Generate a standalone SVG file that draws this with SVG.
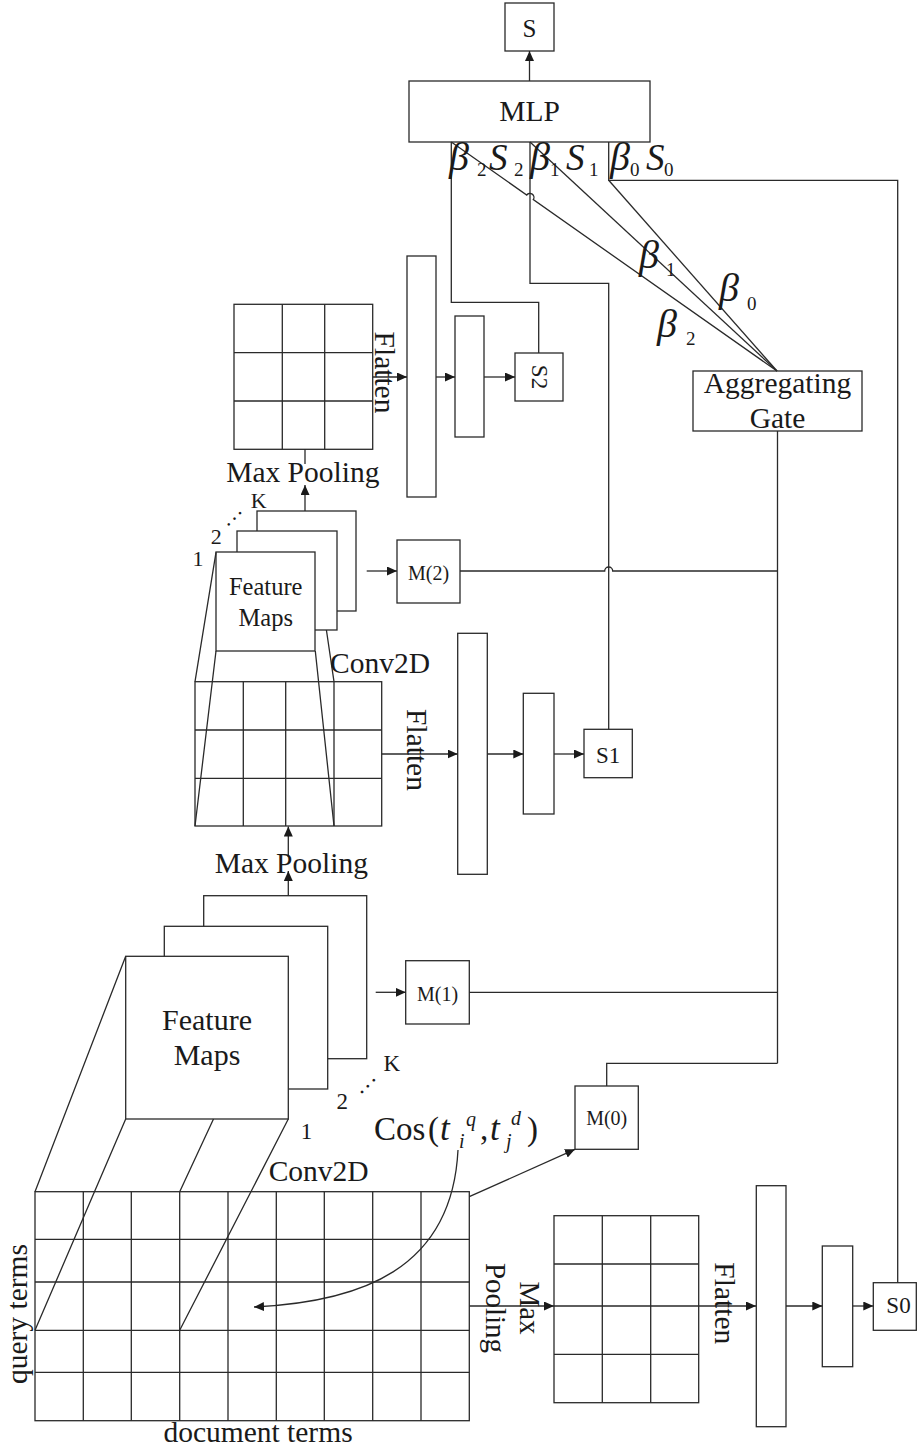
<svg xmlns="http://www.w3.org/2000/svg" width="917" height="1452" viewBox="0 0 917 1452">
<style>
.ln{stroke:#2a2a2a;stroke-width:1.3;fill:none}
.bx{stroke:#2a2a2a;stroke-width:1.3;fill:#fff}
.t{font-family:"Liberation Serif","Times New Roman",serif;fill:#1a1a1a}
.i{font-style:italic}
.c{text-anchor:middle}
.f30{font-size:29.5px}
.b{font-size:40px;font-style:italic}
.s{font-size:37px;font-style:italic}
.d{font-size:19px}
</style>
<defs>
<marker id="ah" markerUnits="userSpaceOnUse" markerWidth="11" markerHeight="9" refX="10" refY="4.5" orient="auto">
<path d="M0,0 L10,4.5 L0,9 z" fill="#1a1a1a"/>
</marker>
</defs>
<rect width="917" height="1452" fill="#fff"/>

<!-- grids -->
<g id="grid-top">
<rect class="ln" x="234" y="304.3" width="138.7" height="145"/>
<path class="ln" d="M282.3 304.3V449.3M324.7 304.3V449.3M234 352.7H372.7M234 401H372.7"/>
</g>
<g id="grid-mid">
<rect class="ln" x="195" y="681.7" width="186.7" height="144.3"/>
<path class="ln" d="M243.3 681.7V826M285.7 681.7V826M334 681.7V826M195 730H381.7M195 778.3H381.7"/>
</g>
<g id="grid-sim">
<rect class="ln" x="35" y="1191.7" width="434.3" height="229"/>
<path class="ln" d="M83.3 1191.7V1420.7M131.3 1191.7V1420.7M179.7 1191.7V1420.7M228 1191.7V1420.7M276.3 1191.7V1420.7M324.3 1191.7V1420.7M372.7 1191.7V1420.7M421 1191.7V1420.7M35 1239.3H469.3M35 1282H469.3M35 1330.3H469.3M35 1372.3H469.3"/>
</g>
<g id="grid-pool0">
<rect class="ln" x="554" y="1215.7" width="144.7" height="187"/>
<path class="ln" d="M602.3 1215.7V1402.7M650.7 1215.7V1402.7M554 1264H698.7M554 1306H698.7M554 1354.3H698.7"/>
</g>

<!-- nodes -->
<g id="node-S"><rect class="bx" x="505" y="3" width="49" height="48"/><text class="t c" x="529.5" y="37.3" font-size="25">S</text></g>
<g id="node-MLP"><rect class="bx" x="409" y="81" width="241" height="61"/><text class="t c f30" x="529.5" y="120.7">MLP</text></g>
<g id="node-gate"><rect class="bx" x="693" y="371" width="169" height="60"/><text class="t c f30" x="777.5" y="393.3">Aggregating</text><text class="t c f30" x="777.5" y="428.3">Gate</text></g>

<g id="node-fc2a"><rect class="bx" x="407" y="256" width="29" height="241"/></g>
<g id="node-fc2b"><rect class="bx" x="455" y="316" width="29" height="121"/></g>
<g id="node-S2"><rect class="bx" x="515" y="353" width="48" height="48"/><text class="t c" font-size="23" transform="translate(531.5,377) rotate(90)">S2</text></g>

<g id="node-fm2">
<rect class="bx" x="257" y="511" width="99" height="100"/>
<rect class="bx" x="237" y="531" width="100" height="99"/>
<rect class="bx" x="216" y="552" width="99" height="99"/>
<text class="t c" font-size="24.5" x="265.7" y="595">Feature</text>
<text class="t c" font-size="24.5" x="265.7" y="625.7">Maps</text>
</g>
<g id="node-M2"><rect class="bx" x="397" y="540" width="63" height="63"/><text class="t c" font-size="20" x="428.5" y="580">M(2)</text></g>

<g id="node-fc1a"><rect class="bx" x="457.7" y="633.3" width="29.6" height="241"/></g>
<g id="node-fc1b"><rect class="bx" x="523.3" y="693.3" width="30.7" height="120.7"/></g>
<g id="node-S1"><rect class="bx" x="584" y="729.3" width="48.3" height="48.4"/><text class="t c" font-size="23" x="608.2" y="762.7">S1</text></g>

<g id="node-fm1">
<rect class="bx" x="203.7" y="895.7" width="163" height="163"/>
<rect class="bx" x="164.3" y="926.3" width="163.4" height="162.7"/>
<rect class="bx" x="125.7" y="956.3" width="162.6" height="162.7"/>
<text class="t c" font-size="30" x="207" y="1030">Feature</text>
<text class="t c" font-size="30" x="207" y="1065">Maps</text>
</g>
<g id="node-M1"><rect class="bx" x="405.7" y="960.7" width="63.6" height="63.3"/><text class="t c" font-size="20" x="437.5" y="1001">M(1)</text></g>
<g id="node-M0"><rect class="bx" x="575" y="1086" width="63.3" height="63.3"/><text class="t c" font-size="20" x="606.7" y="1125">M(0)</text></g>

<g id="node-fc0a"><rect class="bx" x="756.3" y="1185.7" width="29.7" height="241"/></g>
<g id="node-fc0b"><rect class="bx" x="822.3" y="1246" width="30.4" height="120.7"/></g>
<g id="node-S0"><rect class="bx" x="873.3" y="1282.7" width="43" height="47.6"/><text class="t c" font-size="23" x="898.5" y="1313.3">S0</text></g>

<!-- connectors -->
<g id="connectors">
<path class="ln" d="M529.5 81V51" marker-end="url(#ah)"/>
<path class="ln" d="M451.3 142L526.73 195A4 4 0 0 1 533.27 199.6L777 371"/>
<path class="ln" d="M530 142L777 371"/>
<path class="ln" d="M608.7 180.3L777 371"/>
<path class="ln" d="M451.3 142V302.3H538.7V353"/>
<path class="ln" d="M530 142V283.3H608.7V729.3"/>
<path class="ln" d="M608.7 142V180.3H897.7V1282.7"/>
<path class="ln" d="M777.5 431V1063.3"/>
<path class="ln" d="M460 571H604.7A4 4 0 0 1 612.7 571H777.5"/>
<path class="ln" d="M469.3 992.3H777.5"/>
<path class="ln" d="M606.7 1086V1063.3H777.5"/>
<path class="ln" d="M366.7 571H397" marker-end="url(#ah)"/>
<path class="ln" d="M375.7 992.3H405.7" marker-end="url(#ah)"/>
<path class="ln" d="M372.7 377H407" marker-end="url(#ah)"/>
<path class="ln" d="M436 377H455" marker-end="url(#ah)"/>
<path class="ln" d="M484 377H515" marker-end="url(#ah)"/>
<path class="ln" d="M305 511V485" marker-end="url(#ah)"/>
<path class="ln" d="M305 449.3V464"/>
<path class="ln" d="M381.7 754H457.7" marker-end="url(#ah)"/>
<path class="ln" d="M487.3 754H523.3" marker-end="url(#ah)"/>
<path class="ln" d="M554 754H584" marker-end="url(#ah)"/>
<path class="ln" d="M288.3 895.7V871" marker-end="url(#ah)"/>
<path class="ln" d="M288.3 857V826.5" marker-end="url(#ah)"/>
<path class="ln" d="M469.3 1306H554" marker-end="url(#ah)"/>
<path class="ln" d="M698.7 1306H756" marker-end="url(#ah)"/>
<path class="ln" d="M786 1306H822.3" marker-end="url(#ah)"/>
<path class="ln" d="M852.7 1306H873.3" marker-end="url(#ah)"/>
<path class="ln" d="M469.3 1196.7L575 1149.3" marker-end="url(#ah)"/>
<path class="ln" d="M458 1150C452 1270 360 1302 254 1307" marker-end="url(#ah)"/>
<!-- conv projections -->
<path class="ln" d="M195 681.7L216 552.3M195 826L216 651M334 826L315.3 651M334 681.7L326.4 630"/>
<path class="ln" d="M35 1191.7L125.7 956.3M35 1330.3L125.7 1119M179.7 1330.3L288.3 1119M179.7 1191.7L213.5 1119"/>
</g>

<!-- labels -->
<g id="labels">
<text class="t c f30" transform="translate(375,372.5) rotate(90)">Flatten</text>
<text class="t c f30" x="302.8" y="481.5">Max Pooling</text>
<text class="t c" font-size="22" x="198" y="566">1</text>
<text class="t c" font-size="22" x="216.2" y="544.3">2</text>
<text class="t c" font-size="22" x="258.7" y="508.3">K</text>
<text class="t c" font-size="22" letter-spacing="2.6" transform="translate(236,518.5) rotate(-45)">...</text>
<text class="t f30" x="330" y="673.3">Conv2D</text>
<text class="t c f30" transform="translate(406.5,750) rotate(90)">Flatten</text>
<text class="t c f30" x="291.3" y="873.3">Max Pooling</text>
<text class="t c" font-size="23" x="391.7" y="1070.7">K</text>
<text class="t c" font-size="23" x="342.3" y="1109.3">2</text>
<text class="t c" font-size="23" x="306.5" y="1139.3">1</text>
<text class="t c" font-size="23" letter-spacing="2.6" transform="translate(369.5,1086) rotate(-45)">...</text>
<text class="t f30" x="268.7" y="1181">Conv2D</text>
<text class="t c f30" transform="translate(27,1314) rotate(-90)">query terms</text>
<text class="t c f30" x="258" y="1441.7">document terms</text>
<text class="t c" font-size="29" transform="translate(520,1308) rotate(90)">Max</text>
<text class="t c" font-size="29" transform="translate(485.5,1308) rotate(90)">Pooling</text>
<text class="t c f30" transform="translate(715,1303.3) rotate(90)">Flatten</text>
<g id="cos-label">
<text class="t" font-size="33" x="374" y="1140">Cos</text>
<text class="t" font-size="33" x="428" y="1140">(</text>
<text class="t i" font-size="35" x="440" y="1140">t</text>
<text class="t i" font-size="20" x="466" y="1126">q</text>
<text class="t i" font-size="20" x="459" y="1148">i</text>
<text class="t" font-size="33" x="480" y="1140">,</text>
<text class="t i" font-size="35" x="490" y="1140">t</text>
<text class="t i" font-size="20" x="511" y="1125">d</text>
<text class="t i" font-size="20" x="506" y="1148">j</text>
<text class="t" font-size="33" x="527" y="1140">)</text>
</g>
<g id="beta-top">
<text class="t b" x="449" y="170">β</text><text class="t d" x="477" y="176">2</text>
<text class="t s" x="489" y="170">S</text><text class="t d" x="514" y="176">2</text>
<text class="t b" x="530" y="170">β</text><text class="t d" x="550" y="176">1</text>
<text class="t s" x="566" y="170">S</text><text class="t d" x="589" y="176">1</text>
<text class="t b" x="610" y="170">β</text><text class="t d" x="630" y="176">0</text>
<text class="t s" x="646" y="170">S</text><text class="t d" x="664" y="176">0</text>
</g>
<g id="beta-mid">
<text class="t b" x="639" y="268">β</text><text class="t d" x="666" y="276">1</text>
<text class="t b" x="719" y="301">β</text><text class="t d" x="747" y="310">0</text>
<text class="t b" x="657" y="337">β</text><text class="t d" x="686" y="345">2</text>
</g>
</g>
</svg>
